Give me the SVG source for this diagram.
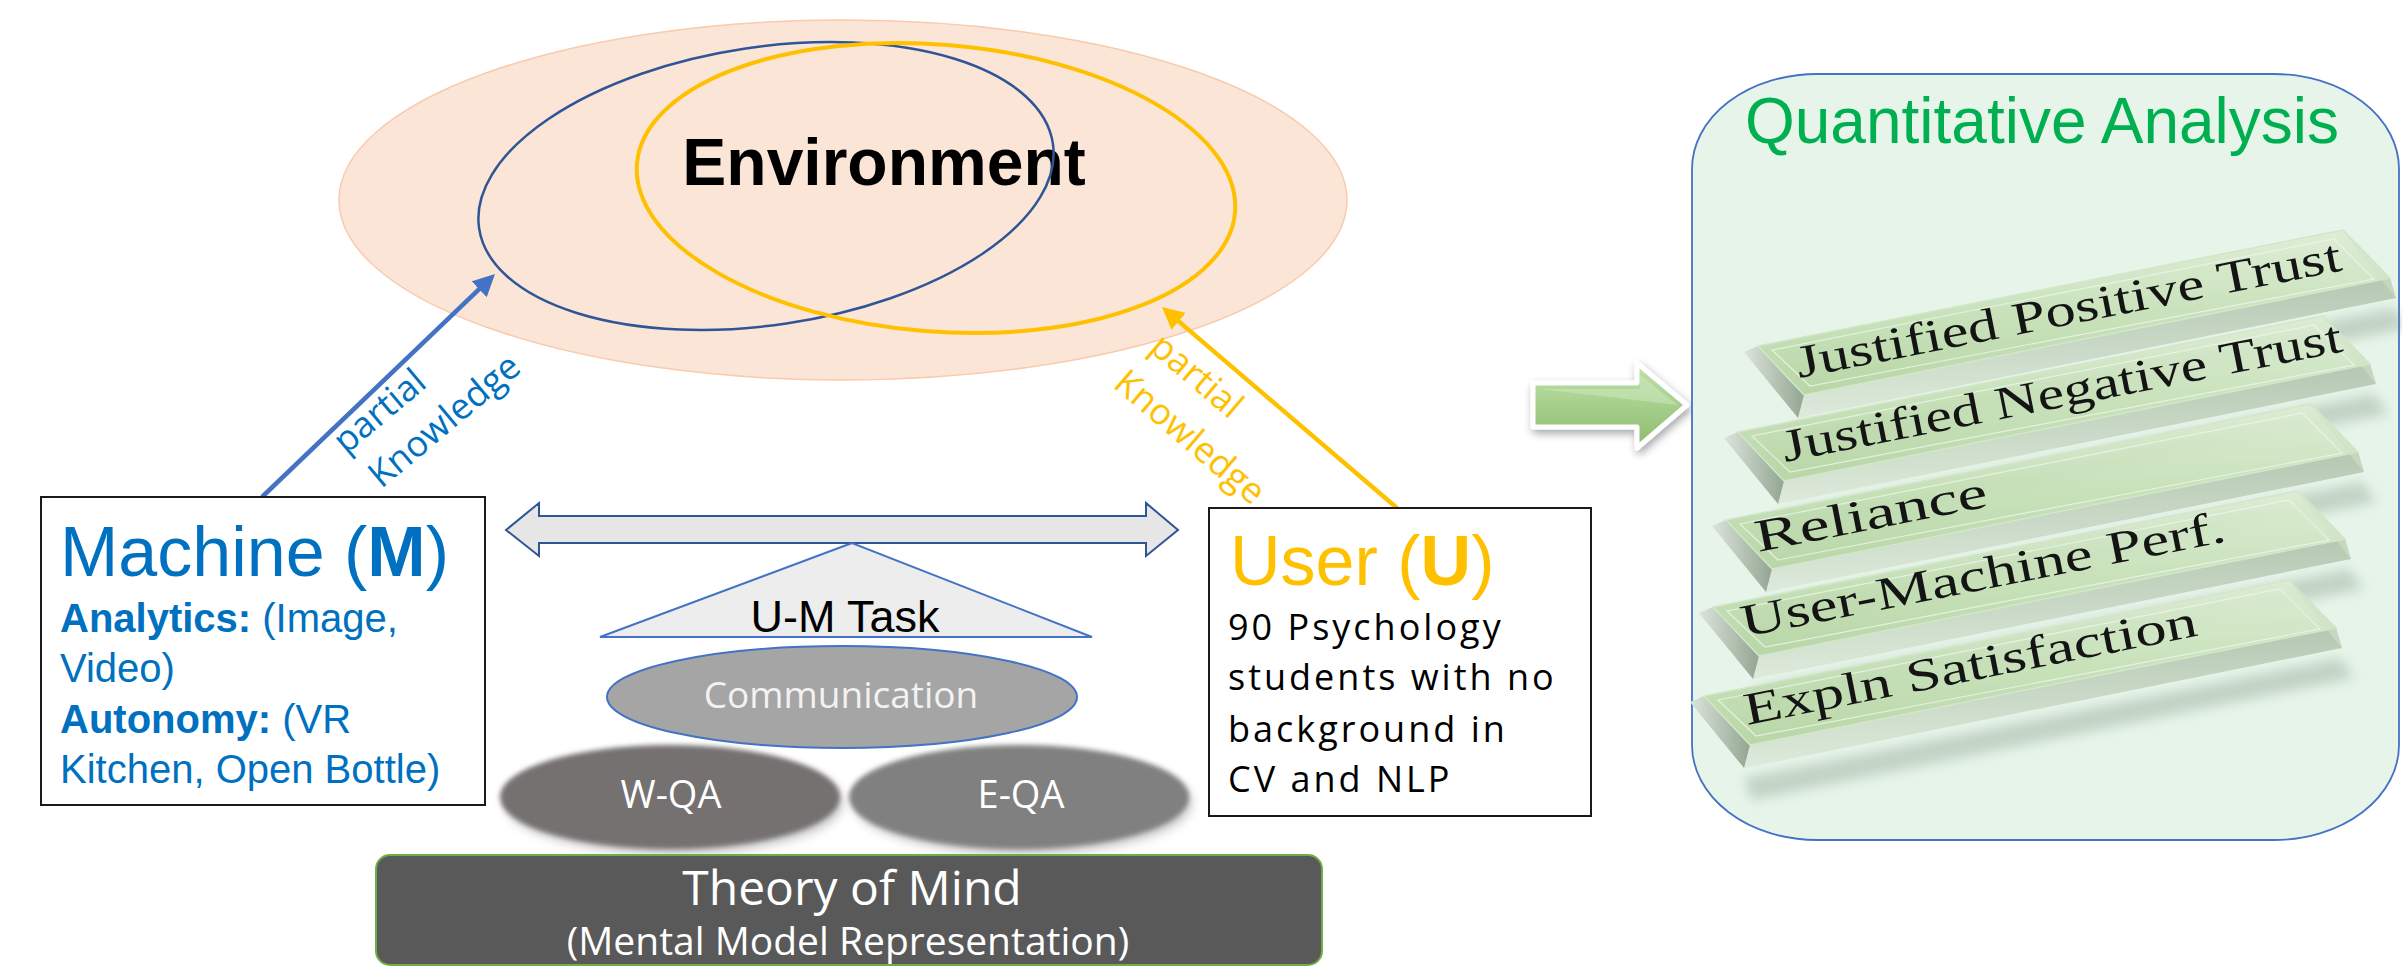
<svg xmlns="http://www.w3.org/2000/svg" width="2402" height="970" viewBox="0 0 2402 970">
<defs>
<style>
.arial{font-family:"Liberation Sans",Arial,sans-serif}
.cal{font-family:"Open Sans","Noto Sans",sans-serif}
.box{fill:#fff;stroke:#1a1a1a;stroke-width:2}
.bartxt{font-family:"Liberation Serif","Times New Roman",serif;font-size:46px;fill:#141414}
.wtxt{fill:#fff;text-anchor:middle}
</style>
<marker id="mBlue" markerUnits="userSpaceOnUse" markerWidth="22" markerHeight="22" refX="8" refY="11" orient="auto"><path d="M0,0 L22,11 L0,22 z" fill="#4472C4"/></marker>
<marker id="mYellow" markerUnits="userSpaceOnUse" markerWidth="22" markerHeight="22" refX="8" refY="11" orient="auto"><path d="M0,0 L22,11 L0,22 z" fill="#FFC000"/></marker>
<filter id="soft" x="-10%" y="-20%" width="120%" height="140%"><feGaussianBlur stdDeviation="2.5"/></filter>
<filter id="blur6" x="-20%" y="-50%" width="140%" height="200%"><feGaussianBlur stdDeviation="6"/></filter>
<filter id="shadow" x="-20%" y="-30%" width="150%" height="180%"><feDropShadow dx="2" dy="4" stdDeviation="4" flood-color="#000" flood-opacity="0.35"/></filter>
<linearGradient id="gFace" x1="0" y1="0" x2="0" y2="1"><stop offset="0" stop-color="#DDEDD4"/><stop offset="0.5" stop-color="#C6E0B6"/><stop offset="1" stop-color="#B3D39F"/></linearGradient>
<linearGradient id="gThick" x1="0" y1="0" x2="0" y2="1"><stop offset="0" stop-color="#A9BDA5"/><stop offset="1" stop-color="#DCE8D8"/></linearGradient>
<linearGradient id="gCap" x1="0" y1="0" x2="1" y2="0"><stop offset="0" stop-color="#DCE4DA"/><stop offset="1" stop-color="#93A692"/></linearGradient>
<linearGradient id="gArrow" x1="0" y1="0" x2="0" y2="1"><stop offset="0" stop-color="#C3E2AE"/><stop offset="0.5" stop-color="#A5CF8B"/><stop offset="1" stop-color="#8DBA72"/></linearGradient>
<g id="bar">
<polygon points="40,82 636,-38 650,-18 48,104" fill="#6E8B6E" opacity="0.3" filter="url(#blur6)"/>
<polygon points="46,49 632,-68 638,-48 40,72" fill="url(#gThick)" opacity="0.8"/>
<polygon points="-14,6 0,0 46,49 40,72" fill="url(#gCap)"/>
<polygon points="0,0 585,-116 632,-68 46,49" fill="url(#gFace)" fill-opacity="0.9" stroke="#D3E6C9" stroke-width="1.5"/>
<polygon points="14,4 576,-107 616,-67 52,40" fill="none" stroke="#EEF6EA" stroke-width="1.2" opacity="0.8"/>
<polygon points="585,-116 632,-68 638,-48 600,-95" fill="#CFE3C6" opacity="0.6"/>
</g>
</defs>

<rect width="2402" height="970" fill="#fff"/>

<g id="environment">
<ellipse cx="843" cy="200" rx="504" ry="180" fill="#FBE5D6" stroke="#F8CBAD" stroke-width="1.5"/>
<text class="arial" x="884" y="185" font-size="66" font-weight="bold" text-anchor="middle" fill="#000">Environment</text>
<ellipse cx="766" cy="186" rx="290" ry="139" transform="rotate(-8.4 766 186)" fill="none" stroke="#2F5597" stroke-width="2.5"/>
<ellipse cx="936" cy="188" rx="300" ry="143.5" transform="rotate(4.6 936 188)" fill="none" stroke="#FFC000" stroke-width="4"/>
</g>

<g id="connectors">
<line x1="262" y1="497" x2="484.9" y2="283.7" stroke="#4472C4" stroke-width="4.5" marker-end="url(#mBlue)"/>
<line x1="1397" y1="508" x2="1172.6" y2="316.1" stroke="#FFC000" stroke-width="4.5" marker-end="url(#mYellow)"/>
<text class="cal" font-size="36" fill="#0070C0" transform="translate(346 455) rotate(-40)"><tspan x="0" y="0">partial</tspan><tspan x="5" y="49">Knowledge</tspan></text>
<text class="cal" font-size="36" fill="#FFC000" transform="translate(1148 350) rotate(40.5)"><tspan x="0" y="0">partial</tspan><tspan x="-4" y="51">Knowledge</tspan></text>
<polygon points="506,530 539,503 539,516 1146,516 1146,503 1178,530 1146,556 1146,543 539,543 539,556" fill="#E7E6E6" stroke="#2F5597" stroke-width="2"/>
</g>

<g id="machine">
<rect class="box" x="41" y="497" width="444" height="308"/>
<text class="arial" x="60" y="576" font-size="70" fill="#0070C0">Machine (<tspan font-weight="bold">M</tspan>)</text>
<text class="arial" font-size="40" fill="#0070C0"><tspan x="60" y="632"><tspan font-weight="bold">Analytics:</tspan> (Image,</tspan><tspan x="60" y="682">Video)</tspan><tspan x="60" y="733"><tspan font-weight="bold">Autonomy:</tspan> (VR</tspan><tspan x="60" y="783">Kitchen, Open Bottle)</tspan></text>
</g>

<g id="user">
<rect class="box" x="1209" y="508" width="382" height="308"/>
<text class="arial" x="1230" y="585" font-size="70" fill="#FFC000">User (<tspan font-weight="bold">U</tspan>)</text>
<text class="cal" font-size="36" letter-spacing="3" fill="#000"><tspan x="1228" y="640">90 Psychology</tspan><tspan x="1228" y="690">students with no</tspan><tspan x="1228" y="742">background in</tspan><tspan x="1228" y="792">CV and NLP</tspan></text>
</g>

<g id="um-task">
<polygon points="852,543 600,637 1092,637" fill="#EDEDED" stroke="#4472C4" stroke-width="2"/>
<text class="arial" x="845" y="632" font-size="45" text-anchor="middle" fill="#000">U-M Task</text>
</g>

<g id="w-qa">
<ellipse cx="674" cy="803" rx="168" ry="50" fill="#000" opacity="0.25" filter="url(#blur6)"/>
<ellipse cx="670" cy="797" rx="170" ry="52" fill="#767171" filter="url(#soft)"/>
<text class="cal wtxt" x="671" y="808" font-size="38">W-QA</text>
</g>

<g id="e-qa">
<ellipse cx="1023" cy="803" rx="168" ry="50" fill="#000" opacity="0.25" filter="url(#blur6)"/>
<ellipse cx="1019" cy="797" rx="170" ry="52" fill="#808080" filter="url(#soft)"/>
<text class="cal wtxt" x="1021" y="808" font-size="38">E-QA</text>
</g>

<g id="communication">
<ellipse cx="842" cy="697" rx="235" ry="51" fill="#A5A5A5" stroke="#4472C4" stroke-width="2"/>
<text class="cal" x="841" y="708" font-size="37" text-anchor="middle" fill="#F2F2F2">Communication</text>
</g>

<g id="theory-of-mind">
<rect x="376" y="855" width="946" height="110" rx="14" fill="#595959" stroke="#70AD47" stroke-width="2"/>
<text class="cal wtxt" x="852" y="905" font-size="48">Theory of Mind</text>
<text class="cal wtxt" x="848" y="955" font-size="39">(Mental Model Representation)</text>
</g>

<g id="green-arrow">
<polygon points="1533,383 1637,383 1637,363 1687,405 1637,448 1637,427 1533,427" fill="url(#gArrow)" stroke="#fff" stroke-width="5" stroke-linejoin="round" filter="url(#shadow)"/>
<polygon points="1540,389 1640,389 1640,375 1678,405" fill="#D2EAC2" opacity="0.5"/>
</g>

<g id="quantitative-analysis">
<path d="M1817,74 H2274 A125,95 0 0 1 2399,169 V745 A125,95 0 0 1 2274,840 H1817 A125,95 0 0 1 1692,745 V169 A125,95 0 0 1 1817,74 Z" fill="#E6F4EA" stroke="#4472C4" stroke-width="1.8"/>
<text class="arial" x="2042" y="143" font-size="64" text-anchor="middle" fill="#00B050">Quantitative Analysis</text>
<use href="#bar" x="1758" y="346"/>
<use href="#bar" x="1738" y="432"/>
<use href="#bar" x="1726" y="520"/>
<use href="#bar" x="1713" y="607"/>
<use href="#bar" x="1704" y="696"/>
<text class="bartxt" transform="translate(1799 378) rotate(-11.2)" textLength="555" lengthAdjust="spacingAndGlyphs">Justified Positive Trust</text>
<text class="bartxt" transform="translate(1785 462) rotate(-11.2)" textLength="570" lengthAdjust="spacingAndGlyphs">Justified Negative Trust</text>
<text class="bartxt" transform="translate(1758 552) rotate(-11.2)" textLength="236" lengthAdjust="spacingAndGlyphs">Reliance</text>
<text class="bartxt" transform="translate(1744 637) rotate(-11.2)" textLength="493" lengthAdjust="spacingAndGlyphs">User-Machine Perf.</text>
<text class="bartxt" transform="translate(1747 725) rotate(-11.2)" textLength="461" lengthAdjust="spacingAndGlyphs">Expln Satisfaction</text>
</g>
</svg>
